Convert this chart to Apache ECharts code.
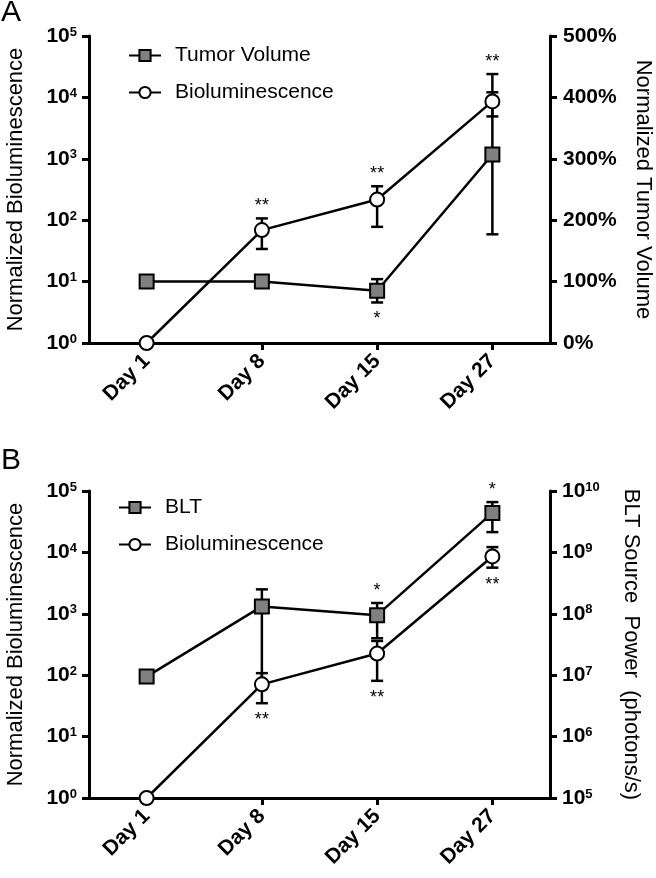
<!DOCTYPE html>
<html><head><meta charset="utf-8">
<script src="https://cdn.jsdelivr.net/npm/echarts@6/dist/echarts.min.js"></script>
<style>html,body{margin:0;padding:0;background:#fff}#c{width:656px;height:878px}</style>
</head><body><div id="c"></div>
<script>
// ---- data ----
const days = ['Day 1', 'Day 8', 'Day 15', 'Day 27'];
// Panel A
const tumorVol = [100, 100, 85, 307];          // % (right axis)
const tumorLo  = [null, null, 66, 177];
const tumorHi  = [null, null, 104, 438];
const bioA     = [1, 69, 217, 8600];            // normalized bioluminescence (left log axis)
const bioALo   = [null, 34, 78, 4900];
const bioAHi   = [null, 107, 357, 12100];
// Panel B
const blt      = [9.5e6, 1.32e8, 9.5e7, 4.4e9]; // photons/s (right log axis)
const bltLo    = [null, 6e6, 4.0e7, 2.14e9];
const bltHi    = [null, 2.5e8, 1.5e8, 6.6e9];
const bioB     = [1, 71, 225, 8600];
const bioBLo   = [null, 35, 81, 5640];
const bioBHi   = [null, 108, 361, 12200];
// significance marks: [dayIndex, text, series, side]
const starsA = [[1, '**', 'bio', 'hi'], [2, '**', 'bio', 'hi'], [3, '**', 'tumor', 'hi'], [2, '*', 'tumor', 'lo']];
const starsB = [[1, '**', 'bio', 'lo'], [2, '*', 'blt', 'hi'], [2, '**', 'bio', 'lo'], [3, '*', 'blt', 'hi'], [3, '**', 'bio', 'lo']];
const pctMin = 0, pctMax = 500, pctStep = 100;

// ---- helpers ----
const F = '"Liberation Sans", Arial, Helvetica, sans-serif';
const BLACK = '#000';

function errData(lo, hi) {
  const out = [];
  lo.forEach((v, i) => { if (v != null && hi[i] != null) out.push([i, v, hi[i]]); });
  return out;
}
function errSeries(lo, hi, xi, yi) {
  return {
    type: 'custom', xAxisIndex: xi, yAxisIndex: yi, z: 2, clip: false,
    encode: { x: 0, y: [1, 2] },
    data: errData(lo, hi),
    renderItem: function (params, api) {
      const x = api.value(0);
      const a = api.coord([x, api.value(1)]);
      const b = api.coord([x, api.value(2)]);
      const w = 6;
      const st = { stroke: BLACK, lineWidth: 2.5 };
      return { type: 'group', children: [
        { type: 'line', shape: { x1: a[0], y1: a[1], x2: b[0], y2: b[1] }, style: st },
        { type: 'line', shape: { x1: a[0] - w, y1: a[1], x2: a[0] + w, y2: a[1] }, style: st },
        { type: 'line', shape: { x1: b[0] - w, y1: b[1], x2: b[0] + w, y2: b[1] }, style: st }
      ] };
    }
  };
}
function starSeries(list, key, src, xi, yi) {
  const items = list.filter(s => s[2] === key);
  const data = items.map(s => [s[0], (s[3] === 'hi' ? src.hi : src.lo)[s[0]]]);
  return {
    type: 'custom', xAxisIndex: xi, yAxisIndex: yi, z: 4, clip: false,
    data: data,
    renderItem: function (params, api) {
      const it = items[params.dataIndex];
      const p = api.coord([api.value(0), api.value(1)]);
      const up = it[3] === 'hi';
      return { type: 'text', x: p[0], y: p[1] + (up ? -12 : 17),
        style: { text: it[1], fill: BLACK, font: '18px ' + F, align: 'center', verticalAlign: 'middle' } };
    }
  };
}
function lineSeries(name, data, xi, yi, isSquare) {
  return {
    name: name, type: 'line', xAxisIndex: xi, yAxisIndex: yi, data: data, z: 3, clip: false,
    symbol: isSquare ? 'rect' : 'circle', symbolSize: 14, showAllSymbol: true,
    itemStyle: { color: isSquare ? '#808080' : '#fff', borderColor: BLACK, borderWidth: 2 },
    lineStyle: { color: BLACK, width: 2.5 }
  };
}
const supRich = {
  b: { fontSize: 21, fontWeight: 'bold', fontFamily: F, color: BLACK, lineHeight: 21, verticalAlign: 'middle' },
  s: { fontSize: 13, fontWeight: 'bold', fontFamily: F, color: BLACK, lineHeight: 13, verticalAlign: 'top' }
};
function powLabel(v) { return '{b|10}{s|' + Math.round(Math.log10(v)) + '}'; }
const axLine = { show: true, onZero: false, lineStyle: { color: BLACK, width: 3 } };
const axTick = { show: true, length: 7, lineStyle: { color: BLACK, width: 3 } };
function xAxis(gi) {
  return { type: 'category', gridIndex: gi, data: days, boundaryGap: true,
    axisLine: axLine, axisTick: Object.assign({ alignWithLabel: true, interval: 0 }, axTick),
    axisLabel: { interval: 0, rotate: 45, margin: 15, fontSize: 21, fontWeight: 'bold', fontFamily: F, color: BLACK },
    splitLine: { show: false } };
}
function logAxis(gi, pos, min, max, name, gap, rot) {
  return { type: 'log', logBase: 10, gridIndex: gi, position: pos, min: min, max: max,
    axisLine: axLine, axisTick: axTick, minorTick: { show: false }, splitLine: { show: false }, minorSplitLine: { show: false },
    axisLabel: { formatter: powLabel, rich: supRich, margin: 12 },
    name: name, nameLocation: 'middle', nameGap: gap, nameRotate: rot,
    nameTextStyle: { fontSize: 22, fontFamily: F, color: BLACK } };
}

const option = {
  animation: false,
  backgroundColor: '#fff',
  title: [
    { text: 'A', left: 1, top: -2, padding: 0, textStyle: { fontSize: 30, fontWeight: 'normal', fontFamily: F, color: BLACK } },
    { text: 'B', left: 1, top: 446, padding: 0, textStyle: { fontSize: 30, fontWeight: 'normal', fontFamily: F, color: BLACK } }
  ],
  legend: [
    { left: 123, top: 40, orient: 'vertical', itemWidth: 32, itemHeight: 14, itemGap: 16, selectedMode: false,
      data: ['Tumor Volume', 'Bioluminescence'],
      textStyle: { fontSize: 21, fontFamily: F, color: BLACK, lineHeight: 21, padding: [0, 0, 0, 9] } },
    { left: 113, top: 492, orient: 'vertical', itemWidth: 32, itemHeight: 14, itemGap: 16, selectedMode: false,
      data: ['BLT', 'Bioluminescence'],
      textStyle: { fontSize: 21, fontFamily: F, color: BLACK, lineHeight: 21, padding: [0, 0, 0, 9] } }
  ],
  grid: [
    { left: 89, top: 36, width: 461, height: 307, containLabel: false, outerBoundsMode: 'none' },
    { left: 89, top: 491, width: 461, height: 307, containLabel: false, outerBoundsMode: 'none' }
  ],
  xAxis: [xAxis(0), xAxis(1)],
  yAxis: [
    logAxis(0, 'left', 1, 1e5, 'Normalized Bioluminescence', 62, 90),
    { type: 'value', gridIndex: 0, position: 'right', min: pctMin, max: pctMax, interval: pctStep,
      axisLine: axLine, axisTick: axTick, splitLine: { show: false },
      axisLabel: { formatter: '{value}%', margin: 13, fontSize: 21, fontWeight: 'bold', fontFamily: F, color: BLACK },
      name: 'Normalized Tumor Volume', nameLocation: 'middle', nameGap: 82, nameRotate: -90,
      nameTextStyle: { fontSize: 22, fontFamily: F, color: BLACK } },
    logAxis(1, 'left', 1, 1e5, 'Normalized Bioluminescence', 62, 90),
    logAxis(1, 'right', 1e5, 1e10, 'BLT Source  Power  (photons/s)', 70, -90)
  ],
  series: [
    errSeries(tumorLo, tumorHi, 0, 1),
    errSeries(bioALo, bioAHi, 0, 0),
    lineSeries('Tumor Volume', tumorVol, 0, 1, true),
    lineSeries('Bioluminescence', bioA, 0, 0, false),
    starSeries(starsA, 'bio', { lo: bioALo, hi: bioAHi }, 0, 0),
    starSeries(starsA, 'tumor', { lo: tumorLo, hi: tumorHi }, 0, 1),
    errSeries(bltLo, bltHi, 1, 3),
    errSeries(bioBLo, bioBHi, 1, 2),
    lineSeries('BLT', blt, 1, 3, true),
    lineSeries('Bioluminescence', bioB, 1, 2, false),
    starSeries(starsB, 'bio', { lo: bioBLo, hi: bioBHi }, 1, 2),
    starSeries(starsB, 'blt', { lo: bltLo, hi: bltHi }, 1, 3)
  ]
};
const chart = echarts.init(document.getElementById('c'), null, { renderer: 'canvas' });
chart.setOption(option);
</script>
</body></html>
